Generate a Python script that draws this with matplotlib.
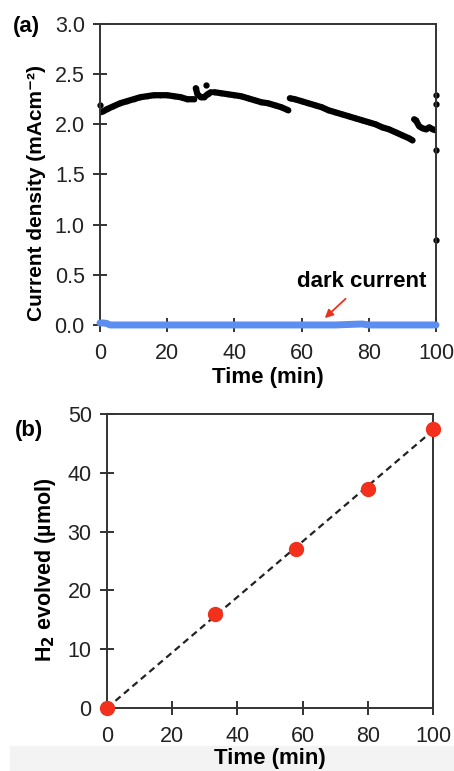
import matplotlib
matplotlib.use('Agg')
import matplotlib.pyplot as plt
from matplotlib.patches import Rectangle

plt.rcParams['font.family'] = ['Liberation Sans', 'DejaVu Sans']

# -----------------------------------
# (a) photocurrent in segments
# -----------------------------------
seg1_t = [0, 1, 2, 4, 6, 8, 10, 12, 14, 16, 18, 20, 22, 24, 26, 28]
seg1_v = [2.12, 2.13, 2.15, 2.18, 2.21, 2.23, 2.25, 2.27, 2.28, 2.29, 2.29, 2.29, 2.28, 2.27, 2.25, 2.25]
seg2_t = [28.5, 29, 30, 31, 32, 33]
seg2_v = [2.36, 2.30, 2.27, 2.27, 2.30, 2.32]
seg3_t = [34, 36, 38, 40, 42, 44, 46, 48, 50, 52, 54, 56]
seg3_v = [2.32, 2.31, 2.30, 2.29, 2.28, 2.26, 2.24, 2.22, 2.21, 2.19, 2.17, 2.14]
seg4_t = [56.5, 58, 60, 62, 64, 66, 68, 70, 72, 74, 76, 78, 80, 82, 84, 86, 88, 90, 92, 93]
seg4_v = [2.26, 2.25, 2.23, 2.21, 2.19, 2.17, 2.14, 2.12, 2.10, 2.08, 2.06, 2.04, 2.02, 2.00,
          1.97, 1.95, 1.92, 1.89, 1.86, 1.84]
seg5_t = [93.5, 94, 95, 96, 97, 98, 99, 100]
seg5_v = [2.05, 2.04, 1.98, 1.96, 1.95, 1.97, 1.95, 1.94]
stray_t = [0, 31.5, 100, 100, 100, 100]
stray_v = [2.19, 2.39, 2.29, 2.20, 1.74, 0.85]

dark_t = [0, 1, 2, 3, 10, 20, 30, 40, 50, 60, 70, 78, 80, 90, 100]
dark_v = [0.02, 0.02, 0.015, 0.0, 0.0, 0.0, 0.0, 0.0, 0.0, 0.0, 0.0, 0.01, 0.0, 0.0, 0.0]

# -----------------------------------
# (b) H2 evolution
# -----------------------------------
h2_t = [0, 33, 58, 80, 100]
h2_v = [0, 16, 27, 37.3, 47.5]
fit_t = [0, 100]
fit_v = [0, 47.2]

fig = plt.figure(figsize=(4.54, 7.71), dpi=100)
# faint grey strip along the bottom edge of the original
fig.patches.append(Rectangle((0.022, 0), 0.978, 0.032, transform=fig.transFigure,
                             color='#f3f3f3', zorder=-5))

tick_kw = dict(direction='inout', length=10, width=1.3, labelsize=15.5, colors='#222222')


def style(ax):
    for s in ax.spines.values():
        s.set_color('#333333')
        s.set_linewidth(1.4)
    ax.tick_params(axis='both', **tick_kw)
    ax.tick_params(axis='y', pad=6)
    ax.tick_params(axis='x', pad=8)
    ax.patch.set_alpha(0)


# ---- panel (a)
ax1 = fig.add_axes([0.2203, 0.5785, 0.740, 0.3904])
for t, v in [(seg1_t, seg1_v), (seg2_t, seg2_v), (seg3_t, seg3_v), (seg4_t, seg4_v), (seg5_t, seg5_v)]:
    ax1.plot(t, v, color='black', lw=4.5, marker='o', ms=3, solid_capstyle='round')
ax1.plot(stray_t, stray_v, 'o', color='black', ms=3.5, clip_on=False)
ax1.plot(dark_t, dark_v, color='#5b8ef0', lw=5, solid_capstyle='round', clip_on=False, zorder=3)
ax1.set_xlim(0, 100)
ax1.set_ylim(0, 3.0)
ax1.set_xticks(range(0, 101, 20))
ax1.set_yticks([0, 0.5, 1.0, 1.5, 2.0, 2.5, 3.0])
ax1.set_yticklabels([f'{v:.1f}' for v in [0, 0.5, 1.0, 1.5, 2.0, 2.5, 3.0]])
style(ax1)
ax1.set_xlabel('Time (min)', fontsize=16, fontweight='bold', labelpad=2)
ax1.set_ylabel('Current density (mAcm⁻²)', fontsize=15, fontweight='bold')
ax1.yaxis.set_label_coords(-0.16, 0.44)
ax1.annotate('', xy=(66.3, 0.05), xytext=(73.7, 0.28),
             arrowprops=dict(arrowstyle='-|>', color='#e8321e', lw=1.3, mutation_scale=12))
ax1.text(78, 0.43, 'dark current', fontsize=16, fontweight='bold', ha='center', va='center')
fig.text(0.059, 0.966, '(a)', fontsize=16, fontweight='bold', ha='center', va='center')

# ---- panel (b)
ax2 = fig.add_axes([0.2357, 0.0817, 0.718, 0.3813])
ax2.plot(fit_t, fit_v, '--', color='#222222', lw=1.6, dashes=(3, 2))
ax2.plot(h2_t, h2_v, 'o', color='#f2301c', ms=10, clip_on=False, zorder=3)
ax2.set_xlim(0, 100)
ax2.set_ylim(0, 50)
ax2.set_xticks(range(0, 101, 20))
ax2.set_yticks(range(0, 51, 10))
style(ax2)
ax2.set_xlabel('Time (min)', fontsize=16, fontweight='bold', labelpad=1)
ax2.set_ylabel('H$_\\mathbf{2}$ evolved (µmol)', fontsize=15.5, fontweight='bold')
ax2.yaxis.set_label_coords(-0.15, 0.47)
fig.text(0.064, 0.442, '(b)', fontsize=16, fontweight='bold', ha='center', va='center')

fig.savefig('out.png', dpi=100)
